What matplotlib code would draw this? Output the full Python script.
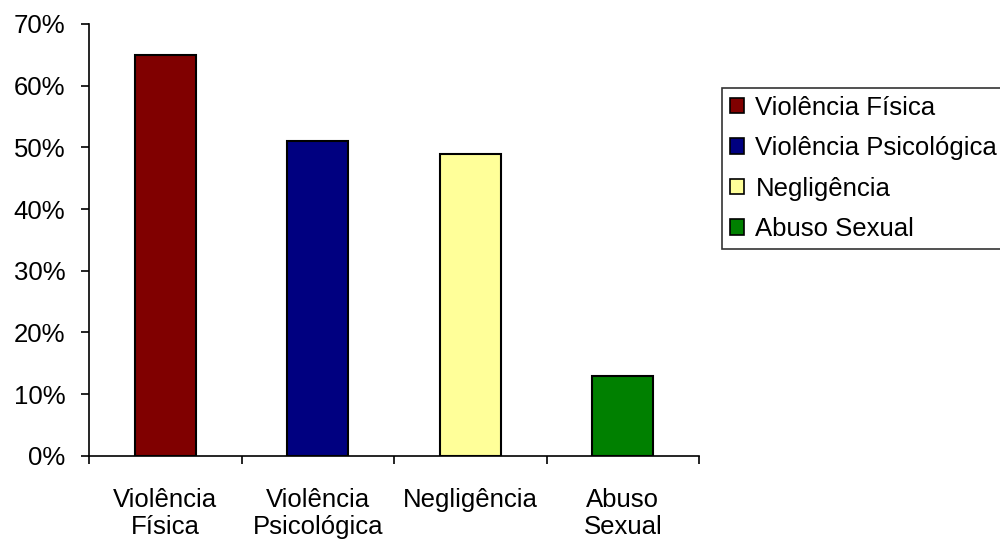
import matplotlib
matplotlib.use("Agg")
import matplotlib.pyplot as plt
from matplotlib.ticker import FixedLocator, PercentFormatter, NullFormatter
from matplotlib.patches import Patch

categories = ["Violência\nFísica", "Violência\nPsicológica", "Negligência", "Abuso\nSexual"]
legend_labels = ["Violência Física", "Violência Psicológica", "Negligência", "Abuso Sexual"]
values = [65, 51, 49, 13]
colors = ["#800000", "#000080", "#FFFF99", "#008000"]
y_ticks = [0, 10, 20, 30, 40, 50, 60, 70]

plt.rcParams['font.family'] = ['Liberation Sans', 'DejaVu Sans']
FS = 18.5

fig = plt.figure(figsize=(10, 5.44), dpi=100)
ax = fig.add_axes([0.089, 0.162, 0.610, 0.794])

x = list(range(len(categories)))
ax.bar(x, values, width=0.4, color=colors, edgecolor="black", linewidth=1.5, zorder=3)

ax.set_xlim(-0.5, len(categories) - 0.5)
ax.set_ylim(0, 70)
ax.yaxis.set_major_locator(FixedLocator(y_ticks))
ax.yaxis.set_major_formatter(PercentFormatter(decimals=0))

ax.xaxis.set_major_locator(FixedLocator([i - 0.5 for i in range(len(categories) + 1)]))
ax.xaxis.set_major_formatter(NullFormatter())
ax.xaxis.set_minor_locator(FixedLocator(x))
ax.set_xticklabels(categories, minor=True)

ax.tick_params(axis='x', which='major', direction='out', length=6, width=1.2)
ax.tick_params(axis='x', which='minor', length=0, pad=23, labelsize=FS)
ax.tick_params(axis='y', which='major', direction='out', length=6, width=1.2, pad=11, labelsize=FS)
for lbl in ax.get_xticklabels(minor=True):
    lbl.set_linespacing(1.15)

for s in ["top", "right"]:
    ax.spines[s].set_visible(False)
for s in ["left", "bottom"]:
    ax.spines[s].set_linewidth(1.2)

handles = [Patch(facecolor=c, edgecolor="black", linewidth=1.2) for c in colors]
leg = fig.legend(handles, legend_labels, loc="upper left", bbox_to_anchor=(0.722, 0.838),
                 bbox_transform=fig.transFigure, fontsize=FS, frameon=True, fancybox=False,
                 edgecolor="black", handlelength=0.55, handleheight=0.55, handletextpad=0.45,
                 labelspacing=0.64, borderpad=0.3, borderaxespad=0)
leg.get_frame().set_linewidth(1.2)

fig.savefig("out.png", dpi=100)
